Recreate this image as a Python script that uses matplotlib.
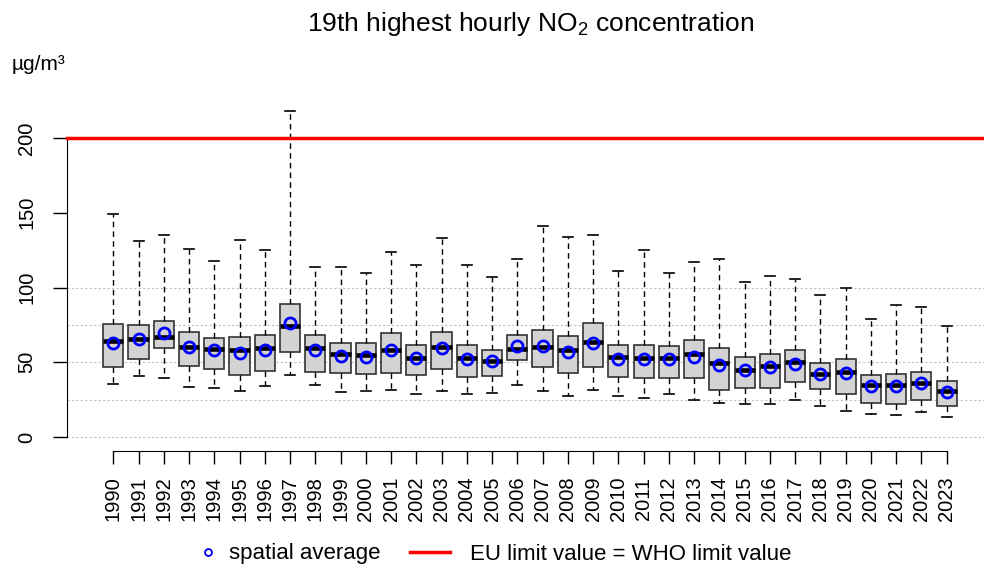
import numpy as np
import matplotlib
matplotlib.use("Agg")
import matplotlib.pyplot as plt
from matplotlib.lines import Line2D

plt.rcParams['font.family'] = ['Liberation Sans', 'DejaVu Sans']
plt.rcParams['mathtext.fontset'] = 'custom'
plt.rcParams['mathtext.rm'] = 'Liberation Sans'

# values (ug/m3)
years = list(range(1990, 2024))
whis_hi = [149, 131, 135, 126, 118, 132, 125, 218, 114, 114, 110, 124, 115, 133, 115, 107, 119,
           141, 134, 135, 111, 125, 110, 117, 119, 104, 108, 106, 95, 100, 79, 88, 87, 74]
q3 = [75.5, 75, 77.5, 70, 66.5, 67, 68, 89, 68.5, 63, 63, 69.5, 61.5, 70.5, 61.5, 58, 68,
      71.5, 67.5, 76, 61.5, 61.5, 61, 65, 59.5, 53.5, 55.5, 58, 49.5, 52, 41.5, 42, 43.5, 37.5]
medians = [64.5, 65.5, 67, 60, 59, 58, 59.5, 74, 59.5, 55.5, 55, 58, 53, 60, 53, 51, 59,
           60.5, 58, 63.5, 53.5, 53, 53, 55.5, 49.5, 45, 47.5, 50.5, 42, 43.5, 35, 34.5, 36, 31]
means = [63, 65.5, 69.5, 60, 58, 56.5, 58, 76, 58, 54.5, 53.5, 58, 53, 59.5, 52.5, 51, 61,
         61, 57, 63, 52.5, 52.5, 52, 53.5, 48, 45, 46.5, 48.5, 42, 42.5, 34, 34, 36, 30]
q1 = [46.5, 52, 59.5, 47.5, 45.5, 41.5, 44, 57, 43.5, 42.5, 42, 42.5, 41.5, 45.5, 40, 41, 51.5,
      46.5, 43, 46.5, 40, 39.5, 39.5, 39.5, 31.5, 32.5, 32.5, 36.5, 32, 29, 23, 22, 24.5, 20.5]
whis_lo = [35.5, 41, 39.5, 33.5, 33, 30.5, 34, 41.5, 34.5, 30, 31, 31.5, 28.5, 31, 29, 29.5, 34.5,
           31, 27.5, 31.5, 27.5, 26, 28.5, 24.5, 23, 22, 22, 25, 21, 17.5, 15.5, 14.5, 16.5, 13.5]
limit_value = 200

stats = []
for i in range(len(years)):
    stats.append(dict(med=medians[i], q1=q1[i], q3=q3[i], whislo=whis_lo[i],
                      whishi=whis_hi[i], mean=means[i], fliers=[]))

fig = plt.figure(figsize=(9.84, 5.69), dpi=100)
ax = fig.add_axes([67/984, 1-451/569, 1-67/984, (451-130)/569])

pos = np.arange(len(years))
for g in [0, 25, 50, 75, 100]:
    ax.axhline(g, color='#c0c0c0', ls=(0, (2, 2)), lw=0.8, zorder=0)

bp = ax.bxp(stats, positions=pos, widths=0.8, capwidths=0.4, showmeans=True, patch_artist=True,
            boxprops=dict(facecolor='#d3d3d3', edgecolor='#333333', lw=1.2),
            whiskerprops=dict(color='black', ls=(0, (4, 3)), lw=1),
            capprops=dict(color='black', lw=1.2),
            medianprops=dict(color='black', lw=3.3, solid_capstyle='butt'),
            meanprops=dict(marker='o', markerfacecolor='none', markeredgecolor='blue',
                           markeredgewidth=2, markersize=8))
for key in bp:
    for art in bp[key]:
        art.set_clip_on(False)

ax.axhline(limit_value, color='red', lw=2.5, zorder=5, clip_on=False)

ax.set_xlim(-1.834, 34.48)
ax.set_ylim(-9.36, 205.35)
for s in ['top', 'right']:
    ax.spines[s].set_visible(False)
ax.spines['left'].set_bounds(0, 200)
ax.spines['bottom'].set_bounds(0, len(years) - 1)

ax.set_yticks([0, 50, 100, 150, 200])
ax.set_yticklabels(['0', '50', '100', '150', '200'], rotation=90, va='center', fontsize=14.5)
ax.set_xticks(pos)
ax.set_xticklabels([str(y) for y in years], rotation=90, fontsize=14.5)
ax.tick_params(axis='y', length=10, width=1, pad=12)
ax.tick_params(axis='x', length=9.4, width=1, pad=9)

fig.text(531/984, 1-24/569, '19th highest hourly NO$_\\mathregular{2}$ concentration',
         ha='center', va='center', fontsize=19)
fig.text(12/984, 1-65/569, 'µg/m³', ha='left', va='center', fontsize=15)

circ = Line2D([], [], ls='none', marker='o', markerfacecolor='none', markeredgecolor='blue',
              markeredgewidth=1.3, markersize=5)
red = Line2D([], [], color='red', lw=2.5)
leg1 = fig.legend([circ], ['spatial average'], loc='center left',
                  bbox_to_anchor=(202.5/984, 1-554/569), frameon=False, fontsize=16,
                  handlelength=0.5, handletextpad=0.7, borderpad=0, borderaxespad=0)
leg2 = fig.legend([red], ['EU limit value = WHO limit value'], loc='center left',
                  bbox_to_anchor=(410/984, 1-554/569), frameon=False, fontsize=16,
                  handlelength=1.8, handletextpad=0.9, borderpad=0, borderaxespad=0)

fig.savefig('out.png', dpi=100)
